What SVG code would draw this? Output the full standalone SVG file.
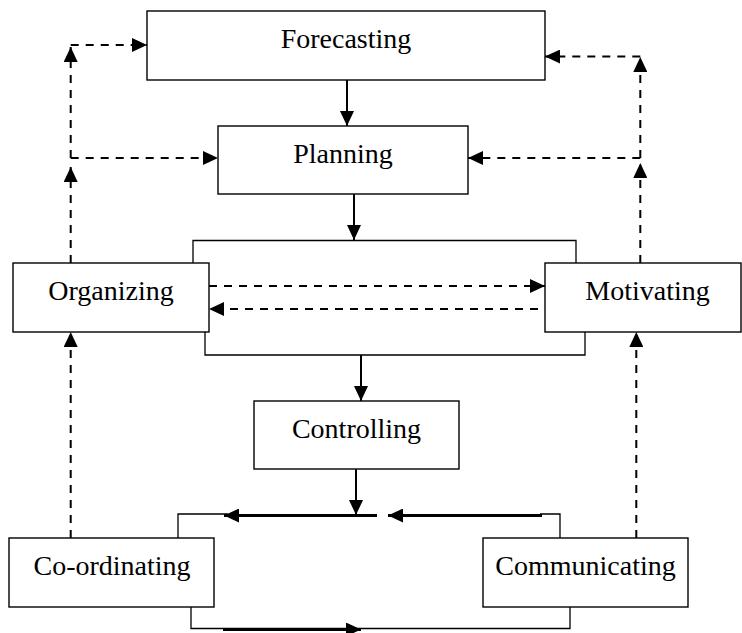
<svg xmlns="http://www.w3.org/2000/svg" width="742" height="633" viewBox="0 0 742 633">
  <style>
    .box { fill: #fff; stroke: #000; stroke-width: 1.4; }
    .label { font-family: "Liberation Serif", "Times New Roman", serif; font-size: 28px; fill: #000; text-anchor: middle; }
    .solid { fill: none; stroke: #000; stroke-width: 2; }
    .thin { fill: none; stroke: #000; stroke-width: 1.3; }
    .thick { fill: none; stroke: #000; stroke-width: 3; }
    .dash { fill: none; stroke: #000; stroke-width: 2; stroke-dasharray: 8 7; }
  </style>
  <defs>
    <marker id="arrow" viewBox="0 0 15 14" refX="15" refY="7" markerWidth="15" markerHeight="14" markerUnits="userSpaceOnUse" orient="auto">
      <path d="M0,0 L15,7 L0,14 z" fill="#000" stroke="none"/>
    </marker>
  </defs>

  <rect width="742" height="633" fill="#fff"/>

  <g id="connectors">
    <!-- main solid flow -->
    <line class="solid" x1="347" y1="80" x2="347" y2="126" marker-end="url(#arrow)"/>
    <line class="solid" x1="354" y1="194" x2="354" y2="240" marker-end="url(#arrow)"/>
    <polyline class="thin" points="193,263 193,240.5 576,240.5 576,263"/>
    <polyline class="thin" points="205,332 205,355 585,355 585,332"/>
    <line class="solid" x1="361" y1="355" x2="361" y2="401" marker-end="url(#arrow)"/>
    <line class="solid" x1="356" y1="469" x2="356" y2="515" marker-end="url(#arrow)"/>

    <!-- lower bracket between Co-ordinating and Communicating -->
    <polyline class="thin" points="178,538 178,514 228,514"/>
    <polyline class="thin" points="540,514 560,514 560,538"/>
    <line class="thick" x1="377" y1="515.5" x2="224" y2="515.5" marker-end="url(#arrow)"/>
    <line class="thick" x1="542" y1="515.5" x2="388" y2="515.5" marker-end="url(#arrow)"/>
    <polyline class="thin" points="191,607 191,628.5 570,628.5 570,607"/>
    <line class="thick" x1="223" y1="629.5" x2="361" y2="629.5" marker-end="url(#arrow)"/>

    <!-- left feedback -->
    <line class="dash" x1="70.7" y1="263" x2="70.7" y2="167" marker-end="url(#arrow)"/>
    <line class="dash" x1="70.7" y1="158" x2="218" y2="158" marker-end="url(#arrow)"/>
    <line class="dash" x1="70.7" y1="158" x2="70.7" y2="47" marker-end="url(#arrow)"/>
    <line class="dash" x1="70.7" y1="45" x2="147" y2="45" marker-end="url(#arrow)"/>
    <line class="dash" x1="70.7" y1="538" x2="70.7" y2="332" marker-end="url(#arrow)"/>

    <!-- right feedback -->
    <line class="dash" x1="640.3" y1="263" x2="640.3" y2="163" marker-end="url(#arrow)"/>
    <line class="dash" x1="640.3" y1="158" x2="468" y2="158" marker-end="url(#arrow)"/>
    <line class="dash" x1="640.3" y1="158" x2="640.3" y2="57" marker-end="url(#arrow)"/>
    <line class="dash" x1="640.3" y1="56.5" x2="545" y2="56.5" marker-end="url(#arrow)"/>
    <line class="dash" x1="636.3" y1="538" x2="636.3" y2="332" marker-end="url(#arrow)"/>

    <!-- Organizing / Motivating exchange -->
    <line class="dash" x1="209" y1="286" x2="545" y2="286" marker-end="url(#arrow)"/>
    <line class="dash" x1="538" y1="309" x2="209" y2="309" marker-end="url(#arrow)"/>
  </g>

  <g id="forecasting">
    <rect class="box" x="147" y="11" width="398" height="69"/>
    <text class="label" x="346" y="48">Forecasting</text>
  </g>
  <g id="planning">
    <rect class="box" x="218" y="126" width="250" height="68"/>
    <text class="label" x="343" y="162.5">Planning</text>
  </g>
  <g id="organizing">
    <rect class="box" x="13" y="263" width="196" height="69"/>
    <text class="label" x="111" y="300">Organizing</text>
  </g>
  <g id="motivating">
    <rect class="box" x="545" y="263" width="196" height="69"/>
    <text class="label" x="647.5" y="300">Motivating</text>
  </g>
  <g id="controlling">
    <rect class="box" x="254" y="401" width="205" height="68"/>
    <text class="label" x="356.5" y="438">Controlling</text>
  </g>
  <g id="coordinating">
    <rect class="box" x="9" y="538" width="205" height="69"/>
    <text class="label" x="112" y="575">Co-ordinating</text>
  </g>
  <g id="communicating">
    <rect class="box" x="483" y="538" width="205" height="69"/>
    <text class="label" x="585.5" y="575">Communicating</text>
  </g>
</svg>
